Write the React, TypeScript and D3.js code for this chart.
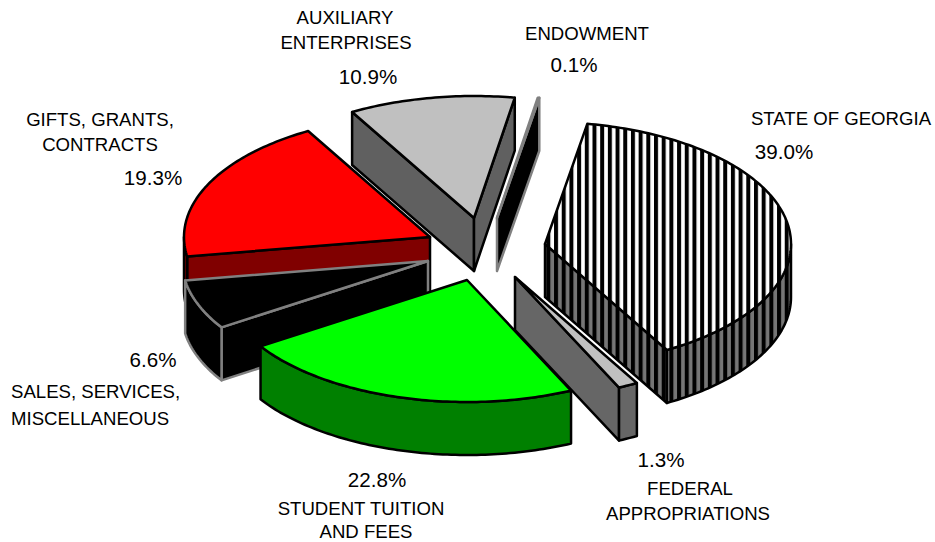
import React from "react";
import * as d3 from "d3";

const categories = ["STATE OF GEORGIA", "FEDERAL APPROPRIATIONS", "STUDENT TUITION AND FEES", "SALES, SERVICES, MISCELLANEOUS", "GIFTS, GRANTS, CONTRACTS", "AUXILIARY ENTERPRISES", "ENDOWMENT"];
const shares = [39.0, 1.3, 22.8, 6.6, 19.3, 10.9, 0.1];
const topFills = ["url(#stripeTop)", "#c0c0c0", "#00ff00", "#000000", "#ff0000", "#c0c0c0", "#000000"];
const wallFills = ["url(#stripeWall)", "#666666", "#008000", "#000000", "#800000", "#606060", "#000000"];
const strokes = ["#000", "#000", "#000", "#808080", "#000", "#000", "#808080"];
const explodeX = [58, 28, -20, -59, -57, -13, 10];
const explodeY = [-1, 32, 35, 16, -8, -27, -27];
const drawOrder = [5, 4, 3, 2, 6, 1, 0];

const NAME = 18.6;
const PCT = 20.6;
const labels: { text: string; x: number; y: number; anchor: string; size: number }[] = [
  { text: "AUXILIARY", x: 345, y: 24, anchor: "middle", size: NAME },
  { text: "ENTERPRISES", x: 346, y: 49, anchor: "middle", size: NAME },
  { text: "10.9%", x: 368, y: 84, anchor: "middle", size: PCT },
  { text: "ENDOWMENT", x: 587, y: 40, anchor: "middle", size: NAME },
  { text: "0.1%", x: 574, y: 72, anchor: "middle", size: PCT },
  { text: "STATE OF GEORGIA", x: 841, y: 125, anchor: "middle", size: NAME },
  { text: "39.0%", x: 784, y: 159, anchor: "middle", size: PCT },
  { text: "GIFTS, GRANTS,", x: 100, y: 126, anchor: "middle", size: NAME },
  { text: "CONTRACTS", x: 100, y: 151, anchor: "middle", size: NAME },
  { text: "19.3%", x: 153, y: 185, anchor: "middle", size: PCT },
  { text: "6.6%", x: 153, y: 367, anchor: "middle", size: PCT },
  { text: "SALES, SERVICES,", x: 11, y: 398, anchor: "start", size: NAME },
  { text: "MISCELLANEOUS", x: 11, y: 425, anchor: "start", size: NAME },
  { text: "22.8%", x: 377, y: 487, anchor: "middle", size: PCT },
  { text: "STUDENT TUITION", x: 361, y: 515, anchor: "middle", size: NAME },
  { text: "AND FEES", x: 366, y: 538, anchor: "middle", size: NAME },
  { text: "1.3%", x: 661, y: 467, anchor: "middle", size: PCT },
  { text: "FEDERAL", x: 690, y: 495, anchor: "middle", size: NAME },
  { text: "APPROPRIATIONS", x: 688, y: 520, anchor: "middle", size: NAME },
];

const rx = 246;
const ry = 122;
const depth = 53;
const centerX = 487;
const centerY = 245;
const deg = Math.PI / 180;
const startAngle = 9.9 * deg;

const pie = d3.pie<number>().sort(null).startAngle(startAngle).endAngle(startAngle + 2 * Math.PI);
const line = d3.line();

function sample(a0: number, a1: number): number[] {
  const n = Math.max(2, Math.ceil((a1 - a0) / (1 * deg)));
  return d3.range(n + 1).map((i) => a0 + ((a1 - a0) * i) / n);
}

export default function App() {
  const arcs = pie(shares);
  return (
    <svg width={935} height={542} style={{ position: "absolute", left: 0, top: 0, background: "#fff" }}>
      <defs>
        <pattern id="stripeTop" patternUnits="userSpaceOnUse" width={7.69} height={10} x={584.8}>
          <rect width={7.69} height={10} fill="#fff" />
          <rect width={4} height={10} fill="#000" />
        </pattern>
        <pattern id="stripeWall" patternUnits="userSpaceOnUse" width={7.69} height={10} x={584.8}>
          <rect width={7.69} height={10} fill="#767676" />
          <rect width={4} height={10} fill="#000" />
        </pattern>
      </defs>
      {drawOrder.map((i) => {
        const a = arcs[i];
        const cx = centerX + explodeX[i];
        const cy = centerY + explodeY[i];
        const rim = (t: number): [number, number] => [cx + rx * Math.sin(t), cy - ry * Math.cos(t)];
        const down = (p: [number, number]): [number, number] => [p[0], p[1] + depth];
        const apex: [number, number] = [cx, cy];
        const stroke = strokes[i];
        const common = { stroke, strokeWidth: 2.5, strokeLinejoin: "round" as const };

        // front-facing radial cut faces
        const faces: [number, number][][] = [];
        if (Math.sin(a.startAngle) < 0) {
          const p = rim(a.startAngle);
          faces.push([apex, p, down(p), down(apex)]);
        }
        if (Math.sin(a.endAngle) > 0) {
          const p = rim(a.endAngle);
          faces.push([apex, p, down(p), down(apex)]);
        }

        // outer curved wall: lower half of the ellipse only
        let wall: [number, number][] | null = null;
        const lo = Math.max(a.startAngle, 90 * deg);
        const hi = Math.min(a.endAngle, 270 * deg);
        if (hi > lo) {
          const upper = sample(lo, hi).map(rim);
          wall = [...upper, ...upper.slice().reverse().map(down)];
        }

        const top: [number, number][] = [apex, ...sample(a.startAngle, a.endAngle).map(rim)];
        return (
          <g key={categories[i]}>
            {faces.map((f, k) => (
              <path key={k} d={line(f) + "Z"} fill={wallFills[i]} {...common} />
            ))}
            {wall && <path d={line(wall) + "Z"} fill={wallFills[i]} {...common} />}
            <path d={line(top) + "Z"} fill={topFills[i]} {...common} />
          </g>
        );
      })}
      <g fontFamily="'Liberation Sans', Arial, sans-serif" fill="#000">
        {labels.map((l) => (
          <text key={l.text} x={l.x} y={l.y} fontSize={l.size} textAnchor={l.anchor as any}>
            {l.text}
          </text>
        ))}
      </g>
    </svg>
  );
}
